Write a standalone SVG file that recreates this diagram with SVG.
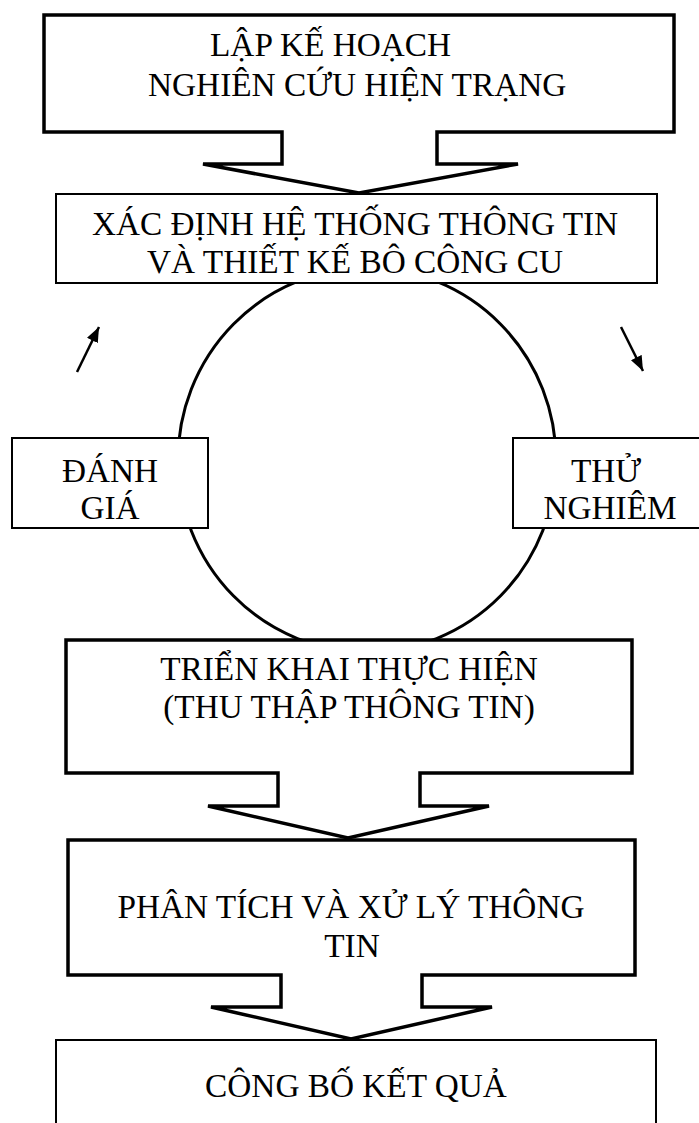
<svg xmlns="http://www.w3.org/2000/svg" width="699" height="1123" viewBox="0 0 699 1123">
<style>
.thick{fill:#fff;stroke:#000;stroke-width:3.5;stroke-linejoin:miter}
.thin{fill:#fff;stroke:#000;stroke-width:2}
.t{font-family:"Liberation Serif","Times New Roman",serif;font-size:33.3px;fill:#000}
.c{text-anchor:middle}
.arr{stroke:#000;stroke-width:2.5;fill:none}
</style>
<defs>
<marker id="ah" viewBox="0 0 15 12" refX="15" refY="6" markerWidth="15" markerHeight="12" markerUnits="userSpaceOnUse" orient="auto">
<path d="M0,0 L15,6 L0,12 Z" fill="#000"/>
</marker>
</defs>
<g id="cycle">
<ellipse cx="367" cy="460" rx="189" ry="192" fill="none" stroke="#000" stroke-width="3"/>
</g>
<g id="connectors">
<line class="arr" x1="77" y1="372" x2="99" y2="327" marker-end="url(#ah)"/>
<line class="arr" x1="621" y1="327" x2="643" y2="371" marker-end="url(#ah)"/>
</g>
<g id="node-lap-ke-hoach">
<path class="thick" d="M44,15 H674 V132 H437 V164 H518 L359,193 L203,164 H282 V132 H44 Z"/>
<text class="t" x="210" y="56">LẬP KẾ HOẠCH</text>
<text class="t" x="148" y="96">NGHIÊN CỨU HIỆN TRẠNG</text>
</g>
<g id="node-xac-dinh">
<rect class="thin" x="56" y="194" width="601" height="89"/>
<text class="t c" x="355" y="235">XÁC ĐỊNH HỆ THỐNG THÔNG TIN</text>
<text class="t c" x="355" y="273">VÀ THIẾT KẾ BÔ CÔNG CU</text>
</g>
<g id="node-danh-gia">
<rect class="thin" x="12" y="438" width="196" height="90"/>
<text class="t c" x="110" y="482">ĐÁNH</text>
<text class="t c" x="110" y="519">GIÁ</text>
</g>
<g id="node-thu-nghiem">
<rect class="thin" x="513" y="438" width="200" height="90"/>
<text class="t c" x="606" y="482">THỬ</text>
<text class="t c" x="610" y="519">NGHIÊM</text>
</g>
<g id="node-trien-khai">
<path class="thick" d="M66,640 H632 V773 H420 V806 H489 L348,838 L208,806 H278 V773 H66 Z"/>
<text class="t c" x="349" y="680">TRIỂN KHAI THỰC HIỆN</text>
<text class="t c" x="349" y="718">(THU THẬP THÔNG TIN)</text>
</g>
<g id="node-phan-tich">
<path class="thick" d="M68,840 H635 V975 H422 V1007 H492 L351,1039 L211,1007 H281 V975 H68 Z"/>
<text class="t c" x="351" y="918">PHÂN TÍCH VÀ XỬ LÝ THÔNG</text>
<text class="t c" x="352" y="957">TIN</text>
</g>
<g id="node-cong-bo">
<rect class="thin" x="56" y="1040" width="600" height="100"/>
<text class="t c" x="356" y="1097">CÔNG BỐ KẾT QUẢ</text>
</g>
</svg>
